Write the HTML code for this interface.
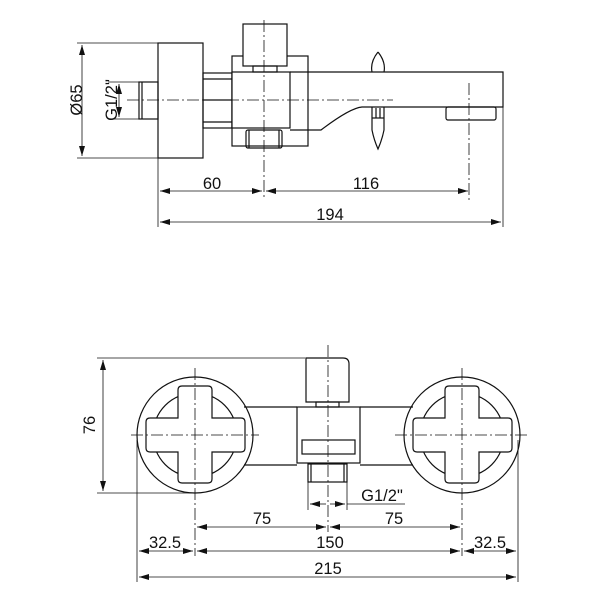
<!DOCTYPE html>
<html><head><style>
html,body{margin:0;padding:0;background:#fff;}
svg{display:block;}
text{font-family:"Liberation Sans",sans-serif;font-size:16.5px;fill:#111;}
</style></head><body>
<svg width="600" height="600" viewBox="0 0 600 600" xmlns="http://www.w3.org/2000/svg">
<defs>
<marker id="a" viewBox="0 0 10 6" refX="10" refY="3" markerWidth="10" markerHeight="6" orient="auto-start-reverse" markerUnits="userSpaceOnUse"><path d="M0,0 L10,3 L0,6 z" fill="#111"/></marker>
</defs>
<g fill="none" stroke="#111" stroke-width="1.2">
<!-- TOP VIEW -->
<rect x="158" y="43" width="45" height="115" fill="#fff"/>
<rect x="139" y="82" width="19" height="37"/>
<line x1="142" y1="82" x2="142" y2="119"/>
<rect x="203" y="73" width="29" height="55"/>
<line x1="203" y1="79" x2="232" y2="79"/><line x1="203" y1="100" x2="232" y2="100"/><line x1="203" y1="122" x2="232" y2="122"/>
<rect x="232" y="56" width="76" height="90"/>
<rect x="232" y="72" width="58" height="56" fill="#fff"/>
<rect x="243" y="24" width="44" height="42" fill="#fff"/>
<rect x="253" y="66" width="24" height="6"/>
<rect x="246" y="130" width="36" height="18" rx="2"/>
<line x1="249" y1="130" x2="249" y2="148"/><line x1="279" y1="130" x2="279" y2="148"/>
<path d="M290,72 L503,72 L503,107 L362,107 Q350,108 321,130 L290,130"/>
<rect x="446" y="107" width="50" height="13" rx="2"/>
<path d="M378,52 Q370,62 372,72 M378,52 Q386,62 384,72"/>
<path d="M372,107 L372,130 Q374,140 378,149 Q382,140 384,130 L384,107"/>
<line x1="376" y1="108" x2="376" y2="118"/><line x1="380" y1="108" x2="380" y2="118"/>
<line x1="372" y1="118" x2="384" y2="118"/>
<!-- dims top -->
<g stroke-width="0.8">
<line x1="77" y1="43" x2="158" y2="43"/><line x1="77" y1="158" x2="158" y2="158"/>
<line x1="82" y1="45" x2="82" y2="156" marker-start="url(#a)" marker-end="url(#a)"/>
<line x1="108" y1="82" x2="139" y2="82"/><line x1="108" y1="119" x2="139" y2="119"/>
<line x1="119" y1="84" x2="119" y2="117" marker-start="url(#a)" marker-end="url(#a)"/>
<line x1="158" y1="140" x2="158" y2="227"/>
<line x1="503" y1="107" x2="503" y2="227"/>
<line x1="160" y1="191" x2="262" y2="191" marker-start="url(#a)" marker-end="url(#a)"/>
<line x1="266" y1="191" x2="468" y2="191" marker-start="url(#a)" marker-end="url(#a)"/>
<line x1="160" y1="222" x2="501" y2="222" marker-start="url(#a)" marker-end="url(#a)"/>
<line x1="127" y1="100" x2="393" y2="100" stroke-dasharray="12,3,2,3"/>
<line x1="264" y1="20" x2="264" y2="200" stroke-dasharray="12,3,2,3"/>
<line x1="469" y1="83" x2="469" y2="200" stroke-dasharray="12,3,2,3"/>
</g>
<!-- BOTTOM VIEW -->
<circle cx="195" cy="435" r="58"/>
<circle cx="195" cy="435" r="42"/>
<circle cx="462" cy="435" r="58"/>
<circle cx="462" cy="435" r="42"/>
<path d="M244,407 L297,407 M360,407 L413,407 M244,465 L297,465 M360,465 L413,465"/>
<rect x="297" y="407" width="63" height="56" fill="#fff"/>
<rect x="302" y="440" width="53" height="14"/>
<path d="M306,358 L343,358 Q349,358 349,364 L349,402 L306,402 Z" fill="#fff"/>
<rect x="316" y="402" width="23" height="5"/>
<rect x="308" y="464" width="39" height="18"/>
<line x1="311" y1="464" x2="311" y2="482"/><line x1="344" y1="464" x2="344" y2="482"/>
<path id="cross" d="M182,386 L208,386 Q212,386 212,390 L212,418 L241,418 Q245,418 245,422 L245,448 Q245,452 241,452 L212,452 L212,479 Q212,483 208,483 L182,483 Q178,483 178,479 L178,452 L150,452 Q146,452 146,448 L146,422 Q146,418 150,418 L178,418 L178,390 Q178,386 182,386 Z" fill="#fff"/>
<use href="#cross" transform="translate(267,0)"/>
<g stroke-width="0.8">
<line x1="97" y1="358" x2="305" y2="358"/><line x1="97" y1="493" x2="195" y2="493"/>
<line x1="103" y1="360" x2="103" y2="491" marker-start="url(#a)" marker-end="url(#a)"/>
<line x1="308" y1="482" x2="308" y2="510"/><line x1="347" y1="482" x2="347" y2="510"/>
<line x1="310" y1="504" x2="326" y2="504" marker-start="url(#a)"/>
<line x1="330" y1="504" x2="345" y2="504" marker-end="url(#a)"/>
<line x1="347" y1="504" x2="405" y2="504"/>
<line x1="137" y1="440" x2="137" y2="582"/><line x1="518" y1="440" x2="518" y2="582"/>
<line x1="197" y1="527" x2="326" y2="527" marker-start="url(#a)" marker-end="url(#a)"/>
<line x1="330" y1="527" x2="460" y2="527" marker-start="url(#a)" marker-end="url(#a)"/>
<line x1="139" y1="551" x2="193" y2="551" marker-start="url(#a)" marker-end="url(#a)"/>
<line x1="197" y1="551" x2="460" y2="551" marker-start="url(#a)" marker-end="url(#a)"/>
<line x1="464" y1="551" x2="516" y2="551" marker-start="url(#a)" marker-end="url(#a)"/>
<line x1="139" y1="577" x2="516" y2="577" marker-start="url(#a)" marker-end="url(#a)"/>
<line x1="195" y1="368" x2="195" y2="556" stroke-dasharray="12,3,2,3"/>
<line x1="462" y1="368" x2="462" y2="556" stroke-dasharray="12,3,2,3"/>
<line x1="328" y1="345" x2="328" y2="532" stroke-dasharray="12,3,2,3"/>
<line x1="131" y1="435" x2="259" y2="435" stroke-dasharray="12,3,2,3"/>
<line x1="395" y1="435" x2="530" y2="435" stroke-dasharray="12,3,2,3"/>
</g>
</g>
<!-- text -->
<text x="76" y="100" text-anchor="middle" transform="rotate(-90 76 100)" dy="6">Ø65</text>
<text x="111" y="100" text-anchor="middle" transform="rotate(-90 111 100)" dy="6">G1/2"</text>
<text x="212" y="189" text-anchor="middle">60</text>
<text x="366" y="189" text-anchor="middle">116</text>
<text x="330" y="220" text-anchor="middle">194</text>
<text x="89" y="425" text-anchor="middle" transform="rotate(-90 89 425)" dy="6">76</text>
<text x="382" y="501" text-anchor="middle">G1/2"</text>
<text x="262" y="524" text-anchor="middle">75</text>
<text x="394" y="524" text-anchor="middle">75</text>
<text x="165" y="548" text-anchor="middle">32.5</text>
<text x="330" y="548" text-anchor="middle">150</text>
<text x="490" y="548" text-anchor="middle">32.5</text>
<text x="328" y="574" text-anchor="middle">215</text>
</svg>
</body></html>
